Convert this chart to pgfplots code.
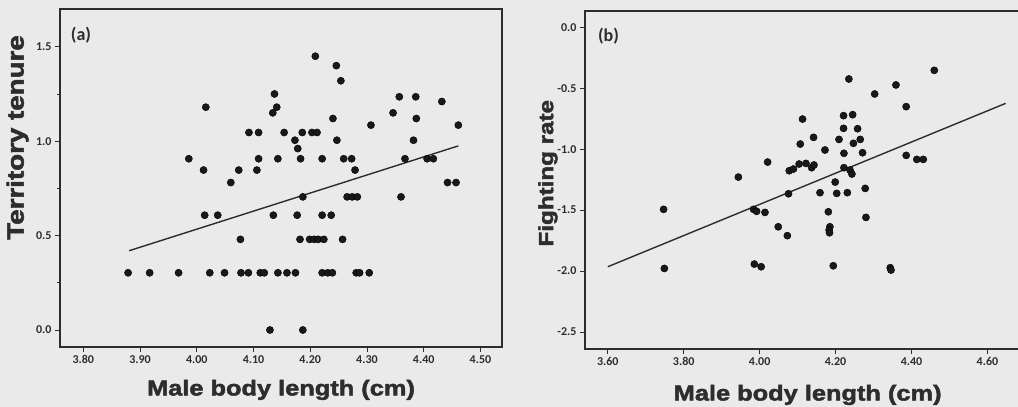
\documentclass[border=0pt]{standalone}
\usepackage{fontspec}
\setmainfont{Liberation Sans}
\newfontfamily\tickfont{Carlito}
\newfontfamily\heavy{Liberation Sans}[FakeBold=2.2, FakeStretch=1.18]
\usepackage{pgfplots}
\pgfplotsset{compat=1.18}
\definecolor{bg}{RGB}{234,234,234}
\definecolor{ink}{RGB}{45,45,45}
\definecolor{dot}{RGB}{25,25,25}

\pgfplotsset{
  panel/.style={
    scale only axis, height=338pt,
    axis background/.style={fill=bg},
    axis line style={ink, line width=1.1pt},
    tick style={ink, line width=0.8pt},
    tick align=outside, major tick length=5pt, minor tick length=2.5pt,
    xtick pos=bottom, ytick pos=left,
    tick label style={font=\tickfont\bfseries\fontsize{12}{13}\selectfont, text=ink},
    /pgf/number format/assume math mode=true,
    xticklabel style={/pgf/number format/.cd, fixed, fixed zerofill, precision=2},
    yticklabel style={/pgf/number format/.cd, fixed, fixed zerofill, precision=1},
    label style={text=ink},
    xlabel style={font=\heavy\bfseries\fontsize{21.5}{24}\selectfont},
  },
  pts/.style={only marks, mark=*, mark size=3.6pt, mark options={draw=none, fill=dot}},
  fit/.style={no marks, ink, line width=1.4pt},
}

\begin{document}
\begin{tikzpicture}
\path[use as bounding box, fill=bg] (0,0) rectangle (1018pt,407pt);

% (a) territory tenure
\begin{axis}[panel, at={(60pt,60pt)}, anchor=south west, width=442pt,
  xmin=3.759, xmax=4.538, ymin=-0.09, ymax=1.70,
  xtick={3.8,3.9,4.0,4.1,4.2,4.3,4.4,4.5},
  ytick={0,0.5,1,1.5}, minor y tick num=1,
  xlabel={Male body length (cm)}, ylabel={Territory tenure},
  xlabel style={at={(axis description cs:0.5,-0.127)}, anchor=center},
  ylabel style={at={(axis description cs:-0.096,0.62)}, anchor=center,
    font=\heavy\bfseries\fontsize{23.5}{26}\selectfont},
]
\addplot[pts] coordinates {
  (4.209,1.45) (4.246,1.40) (4.254,1.32) (4.137,1.25)
  (4.016,1.18) (4.141,1.18) (4.134,1.15) (4.346,1.15)
  (4.357,1.235) (4.386,1.235) (4.432,1.21)
  (4.387,1.12) (4.240,1.12) (4.307,1.085) (4.461,1.085)
  (4.092,1.046) (4.109,1.046) (4.154,1.046) (4.186,1.046) (4.203,1.046) (4.212,1.046)
  (4.173,1.005) (4.247,1.005) (4.382,1.005) (4.178,0.961)
  (3.986,0.907) (4.109,0.907) (4.143,0.907) (4.183,0.907) (4.221,0.907)
  (4.259,0.907) (4.273,0.907) (4.367,0.907) (4.406,0.907) (4.417,0.907)
  (4.012,0.847) (4.074,0.847) (4.106,0.847) (4.279,0.847)
  (4.060,0.781) (4.442,0.781) (4.457,0.781)
  (4.187,0.705) (4.265,0.705) (4.274,0.705) (4.283,0.705) (4.360,0.705)
  (4.014,0.608) (4.037,0.608) (4.135,0.608) (4.177,0.608) (4.221,0.608) (4.237,0.608)
  (4.077,0.48) (4.182,0.48) (4.199,0.48) (4.207,0.48) (4.214,0.48) (4.224,0.48) (4.257,0.48)
  (3.879,0.303) (3.917,0.303) (3.968,0.303) (4.023,0.303) (4.049,0.303) (4.078,0.303)
  (4.091,0.303) (4.112,0.303) (4.119,0.303) (4.143,0.303) (4.159,0.303) (4.174,0.303)
  (4.221,0.303) (4.231,0.303) (4.239,0.303) (4.281,0.303) (4.287,0.303) (4.304,0.303)
  (4.129,0.0) (4.187,0.0)
};
\addplot[fit] coordinates {(3.881,0.42) (4.461,0.975)};
\end{axis}

% (b) fighting rate
\begin{axis}[panel, at={(585pt,58pt)}, anchor=south west, width=436.6pt,
  xmin=3.540, xmax=4.69, ymin=-2.64, ymax=0.134,
  xtick={3.6,3.8,4.0,4.2,4.4,4.6},
  ytick={-2.5,-2,-1.5,-1,-0.5,0},
  xlabel={Male body length (cm)}, ylabel={Fighting rate},
  xlabel style={at={(axis description cs:0.51,-0.136)}, anchor=center},
  ylabel style={at={(axis description cs:-0.085,0.52)}, anchor=center,
    font=\heavy\bfseries\fontsize{20.5}{23}\selectfont},
]
\addplot[pts] coordinates {
  (4.460,-0.353) (4.235,-0.424) (4.359,-0.473) (4.303,-0.547) (4.386,-0.651)
  (4.113,-0.753) (4.221,-0.725) (4.245,-0.717) (4.221,-0.829) (4.258,-0.832)
  (4.142,-0.903) (4.209,-0.920) (4.265,-0.920) (4.107,-0.958) (4.247,-0.952)
  (4.172,-1.007) (4.222,-1.034) (4.271,-1.029) (4.386,-1.051) (4.414,-1.084) (4.431,-1.084)
  (4.021,-1.106) (4.078,-1.177) (4.089,-1.163) (4.104,-1.122) (4.122,-1.117)
  (4.137,-1.152) (4.143,-1.130) (3.944,-1.229) (4.222,-1.152) (4.238,-1.171) (4.243,-1.204)
  (4.199,-1.270) (4.076,-1.366) (4.159,-1.357) (4.203,-1.363) (4.231,-1.357) (4.278,-1.322)
  (3.747,-1.494) (3.984,-1.494) (3.992,-1.51) (4.014,-1.519) (4.181,-1.514) (4.280,-1.560)
  (4.049,-1.637) (4.185,-1.637) (4.183,-1.664) (4.184,-1.686) (4.073,-1.710)
  (3.749,-1.979) (3.986,-1.943) (4.004,-1.965) (4.194,-1.957) (4.344,-1.973) (4.346,-1.992)
};
\addplot[fit] coordinates {(3.60,-1.965) (4.648,-0.624)};
\end{axis}

\node[font=\tickfont\bfseries\fontsize{18}{20}\selectfont, text=ink] at (81pt,372pt) {(a)};
\node[font=\tickfont\bfseries\fontsize{18}{20}\selectfont, text=ink] at (608.5pt,371pt) {(b)};
\end{tikzpicture}
\end{document}
